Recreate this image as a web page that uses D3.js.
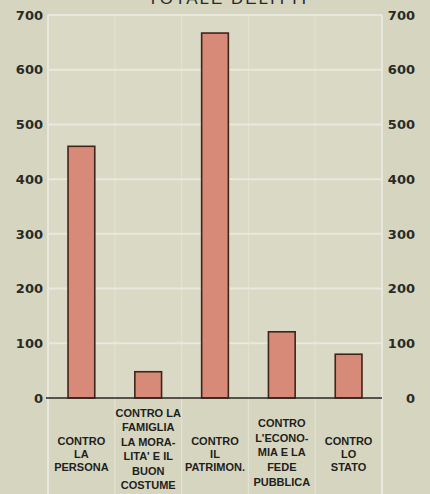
<!DOCTYPE html>
<html>
<head>
<meta charset="utf-8">
<script src="https://cdn.jsdelivr.net/npm/d3@7"></script>
<style>
  html, body { margin: 0; padding: 0; background: #d5d5c0; }
  svg { display: block; }
</style>
</head>
<body>
<div id="chart"></div>
<script>
// data
const categories = ["persona", "famiglia", "patrimonio", "economia", "stato"];
const values = [460, 48, 667, 121, 80];
const labelLines = [
  ["CONTRO", "LA", "PERSONA"],
  ["CONTRO LA", "FAMIGLIA", "LA MORA-", "LITA' E IL", "BUON", "COSTUME"],
  ["CONTRO", "IL", "PATRIMON."],
  ["CONTRO", "L'ECONO-", "MIA E LA", "FEDE", "PUBBLICA"],
  ["CONTRO", "LO", "STATO"]
];
const yTicks = [0, 100, 200, 300, 400, 500, 600, 700];
const title = "TOTALE DELITTI";

const W = 430, H = 494;
const plotLeft = 48, plotRight = 382, plotTop = 15, zero = 398;

const svg = d3.select("#chart").append("svg")
  .attr("width", W).attr("height", H);

svg.append("rect").attr("width", W).attr("height", H).attr("fill", "#d5d5c0");
svg.append("rect")
  .attr("x", plotLeft).attr("y", plotTop)
  .attr("width", plotRight - plotLeft).attr("height", zero - plotTop)
  .attr("fill", "#d9d9c6");

// title, cut off by the top edge as in the original
svg.append("text")
  .attr("x", 228).attr("y", 4)
  .attr("text-anchor", "middle")
  .attr("font-family", "Liberation Sans, Arial, sans-serif")
  .attr("font-size", 17)
  .attr("letter-spacing", 2)
  .attr("fill", "#2a2a26")
  .text(title);

const x = d3.scaleBand()
  .domain(categories)
  .range([plotLeft, plotRight])
  .paddingInner(0.6)
  .paddingOuter(0.3);

const y = d3.scaleLinear()
  .domain([0, 700])
  .range([zero, plotTop]);

// column dividers
const step = x.step();
svg.append("g")
  .selectAll("line")
  .data(categories.slice(1))
  .enter()
  .append("line")
  .attr("x1", d => x(d) - step * 0.3)
  .attr("x2", d => x(d) - step * 0.3)
  .attr("y1", plotTop)
  .attr("y2", H)
  .attr("stroke", "#e2e1d2")
  .attr("stroke-width", 1.2);

// gridlines
svg.append("g")
  .selectAll("line")
  .data(yTicks.slice(1))
  .enter()
  .append("line")
  .attr("x1", plotLeft).attr("x2", plotRight)
  .attr("y1", d => y(d)).attr("y2", d => y(d))
  .attr("stroke", "#e9e8dc")
  .attr("stroke-width", 2);

// plot frame sides
svg.append("g")
  .selectAll("line")
  .data([plotLeft, plotRight])
  .enter()
  .append("line")
  .attr("x1", d => d).attr("x2", d => d)
  .attr("y1", plotTop).attr("y2", H)
  .attr("stroke", "#e9e8dc")
  .attr("stroke-width", 2);

// bars
svg.append("g")
  .selectAll("rect")
  .data(values)
  .enter()
  .append("rect")
  .attr("x", (d, i) => x(categories[i]))
  .attr("y", d => y(d))
  .attr("width", x.bandwidth())
  .attr("height", d => zero - y(d))
  .attr("fill", "#d68a77")
  .attr("stroke", "#3f2419")
  .attr("stroke-width", 1.6);

// zero line
svg.append("line")
  .attr("x1", plotLeft - 2).attr("x2", plotRight)
  .attr("y1", zero).attr("y2", zero)
  .attr("stroke", "#2b2520")
  .attr("stroke-width", 1.6);

// axes
const axisFont = g => g
  .call(g => g.select(".domain").remove())
  .call(g => g.selectAll(".tick line").remove())
  .call(g => g.selectAll(".tick text")
    .attr("font-family", "DejaVu Sans, sans-serif")
    .attr("font-weight", "bold")
    .attr("font-size", 13)
    .attr("fill", "#2a2a26"));

svg.append("g")
  .attr("transform", `translate(${plotLeft - 5},0)`)
  .call(d3.axisLeft(y).tickValues(yTicks).tickSize(0).tickPadding(0))
  .call(axisFont);

svg.append("g")
  .attr("transform", `translate(415,0)`)
  .call(d3.axisLeft(y).tickValues(yTicks).tickSize(0).tickPadding(0))
  .call(axisFont);

// category labels
const labelTop = [441, 413, 441, 423, 441];
const labelStep = [12.8, 14.5, 12.8, 14.7, 12.8];
const lg = svg.append("g")
  .attr("font-family", "Liberation Sans, Arial, sans-serif")
  .attr("font-weight", "bold")
  .attr("font-size", 11)
  .attr("fill", "#1f1f1c")
  .attr("text-anchor", "middle");

labelLines.forEach((lines, i) => {
  const cx = x(categories[i]) + x.bandwidth() / 2;
  lines.forEach((t, j) => {
    lg.append("text")
      .attr("x", cx)
      .attr("y", labelTop[i] + j * labelStep[i])
      .attr("dy", "0.36em")
      .text(t);
  });
});
</script>
</body>
</html>
